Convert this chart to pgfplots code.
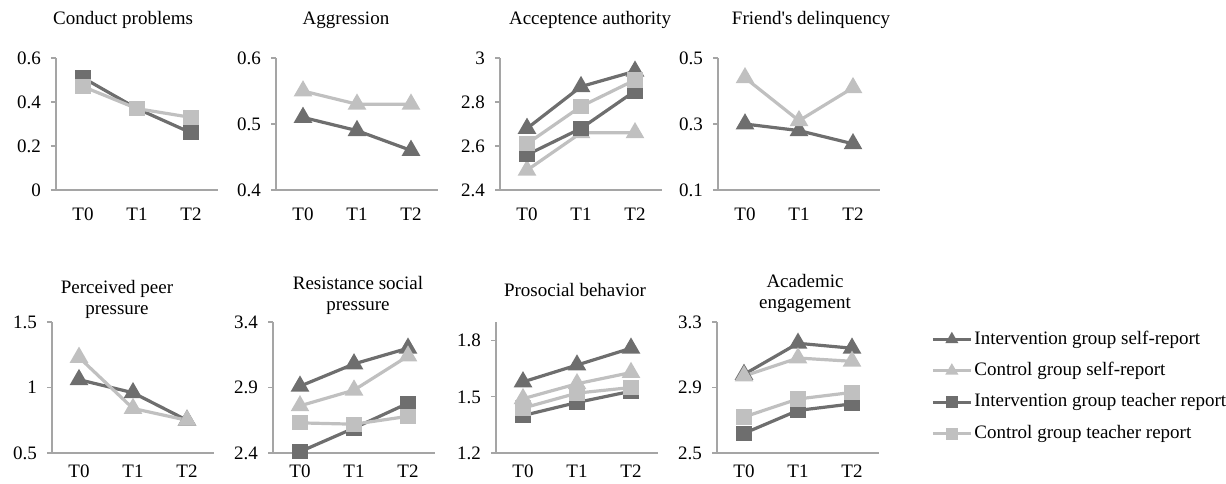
\documentclass[border=0pt]{standalone}
\usepackage{fontspec}
\setmainfont{Liberation Serif}
\usepackage{pgfplots}
\pgfplotsset{compat=1.18}
\definecolor{dk}{RGB}{110,110,110}
\definecolor{lt}{RGB}{192,192,192}
\definecolor{axg}{RGB}{165,165,165}
\newcommand{\fs}{\fontsize{9.5}{10.5}\selectfont}
\pgfplotsset{
  panel/.style={scale only axis, width=81pt, height=66pt,
    xmin=-0.5, xmax=2.5, xtick={0,1,2}, xticklabels={T0,T1,T2},
    axis lines=left, axis line style={-, draw=axg, line width=0.6pt},
    tick align=outside, major tick length=2.5pt,
    xtick style={draw=none}, ytick style={draw=axg, line width=0.6pt},
    /pgf/number format/assume math mode=true,
    /pgf/number format/fixed,
    tick label style={font=\fs},
    yticklabel style={xshift=-1.5pt},
    clip=false},
  toprow/.style={height=66pt, xticklabel style={yshift=-2.8pt}},
  botrow/.style={height=65.5pt, xticklabel style={yshift=0pt}},
  iself/.style={color=dk, line width=1.6pt, mark=triangle*, mark size=3.8pt, mark options={solid}},
  cself/.style={color=lt, line width=1.6pt, mark=triangle*, mark size=3.8pt, mark options={solid}},
  iteach/.style={color=dk, line width=1.6pt, mark=square*, mark size=3pt, mark options={solid}},
  cteach/.style={color=lt, line width=1.6pt, mark=square*, mark size=3pt, mark options={solid}},
}
\begin{document}
\begin{tikzpicture}
\path[use as bounding box] (0,0) rectangle (613pt,-241.5pt);
% ---- titles
\node[font=\fs] at (61.5pt,-10pt) {Conduct problems};
\node[font=\fs] at (173pt,-10pt) {Aggression};
\node[font=\fs] at (295pt,-10pt) {Acceptence authority};
\node[font=\fs] at (405.5pt,-10pt) {Friend\textquotesingle s delinquency};
\node[font=\fs, align=center] at (58.5pt,-149.75pt) {Perceived peer\\pressure};
\node[font=\fs, align=center] at (179pt,-147.5pt) {Resistance social\\pressure};
\node[font=\fs] at (287.5pt,-145pt) {Prosocial behavior};
\node[font=\fs, align=center] at (402.5pt,-146.75pt) {Academic\\engagement};
% ---- top row
\begin{axis}[panel, toprow, at={(28pt,-95pt)}, anchor=south west,
  ymin=0, ymax=0.6, ytick={0,0.2,0.4,0.6}]
\addplot[iteach] coordinates {(0,0.51) (1,0.37) (2,0.26)};
\addplot[cteach] coordinates {(0,0.47) (1,0.37) (2,0.33)};
\end{axis}
\begin{axis}[panel, toprow, at={(138pt,-95pt)}, anchor=south west,
  ymin=0.4, ymax=0.6, ytick={0.4,0.5,0.6}]
\addplot[iself] coordinates {(0,0.51) (1,0.49) (2,0.46)};
\addplot[cself] coordinates {(0,0.55) (1,0.53) (2,0.53)};
\end{axis}
\begin{axis}[panel, toprow, at={(250pt,-95pt)}, anchor=south west,
  ymin=2.4, ymax=3, ytick={2.4,2.6,2.8,3}]
\addplot[iself] coordinates {(0,2.68) (1,2.87) (2,2.94)};
\addplot[cself] coordinates {(0,2.49) (1,2.66) (2,2.66)};
\addplot[iteach] coordinates {(0,2.56) (1,2.68) (2,2.85)};
\addplot[cteach] coordinates {(0,2.61) (1,2.78) (2,2.90)};
\end{axis}
\begin{axis}[panel, toprow, at={(359pt,-95pt)}, anchor=south west,
  ymin=0.1, ymax=0.5, ytick={0.1,0.3,0.5}]
\addplot[iself] coordinates {(0,0.30) (1,0.28) (2,0.24)};
\addplot[cself] coordinates {(0,0.44) (1,0.31) (2,0.41)};
\end{axis}
% ---- bottom row
\begin{axis}[panel, botrow, at={(26pt,-226.5pt)}, anchor=south west,
  ymin=0.5, ymax=1.5, ytick={0.5,1,1.5}]
\addplot[iself] coordinates {(0,1.06) (1,0.96) (2,0.75)};
\addplot[cself] coordinates {(0,1.23) (1,0.84) (2,0.75)};
\end{axis}
\begin{axis}[panel, botrow, at={(136.5pt,-226.5pt)}, anchor=south west,
  ymin=2.4, ymax=3.4, ytick={2.4,2.9,3.4}]
\addplot[iself] coordinates {(0,2.91) (1,3.08) (2,3.20)};
\addplot[cself] coordinates {(0,2.76) (1,2.88) (2,3.14)};
\addplot[iteach] coordinates {(0,2.41) (1,2.59) (2,2.78)};
\addplot[cteach] coordinates {(0,2.63) (1,2.62) (2,2.68)};
\end{axis}
\begin{axis}[panel, botrow, at={(248pt,-226.5pt)}, anchor=south west,
  ymin=1.2, ymax=1.9, ytick={1.2,1.5,1.8}]
\addplot[iself] coordinates {(0,1.58) (1,1.67) (2,1.76)};
\addplot[cself] coordinates {(0,1.49) (1,1.57) (2,1.63)};
\addplot[iteach] coordinates {(0,1.40) (1,1.47) (2,1.53)};
\addplot[cteach] coordinates {(0,1.44) (1,1.52) (2,1.55)};
\end{axis}
\begin{axis}[panel, botrow, at={(358.5pt,-226.5pt)}, anchor=south west,
  ymin=2.5, ymax=3.3, ytick={2.5,2.9,3.3},
  legend style={at={(1.32,0.508)}, anchor=west, draw=none, fill=none,
    font=\fs, inner sep=0pt, row sep=4pt,
    nodes={inner sep=1pt, text height=0.72em, text depth=0.25em}},
  legend cell align=left,
  legend image code/.code={\draw[mark repeat=2,mark phase=2,#1,mark size=2.2pt] plot coordinates {(0pt,0pt) (9.5pt,0pt) (19pt,0pt)};}]
\addplot[iself] coordinates {(0,2.98) (1,3.17) (2,3.14)};
\addplot[cself] coordinates {(0,2.97) (1,3.08) (2,3.06)};
\addplot[iteach] coordinates {(0,2.62) (1,2.76) (2,2.80)};
\addplot[cteach] coordinates {(0,2.72) (1,2.83) (2,2.87)};
\legend{Intervention group self-report, Control group self-report, Intervention group teacher report, Control group teacher report}
\end{axis}
\end{tikzpicture}
\end{document}
